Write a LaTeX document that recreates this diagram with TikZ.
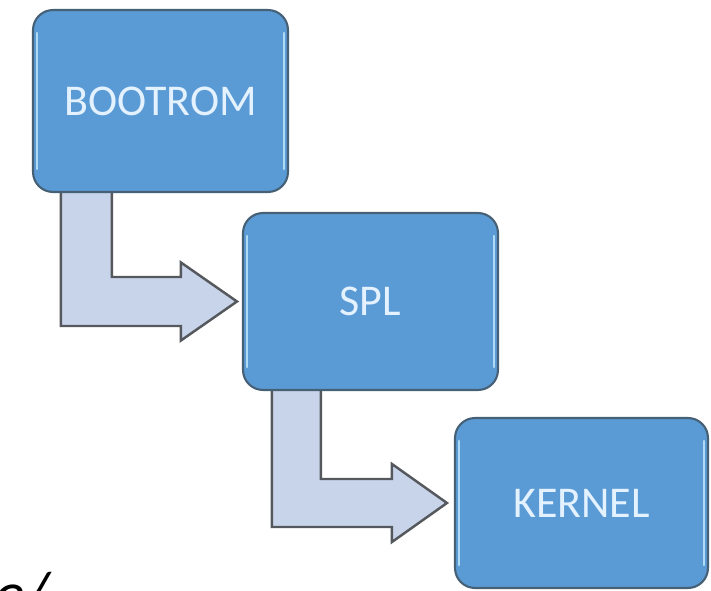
\documentclass[tikz,border=0pt]{standalone}
\usepackage{fontspec}
\setmainfont{Carlito}
\usepackage{xcolor}
\definecolor{bootblue}{RGB}{91,155,213}
\definecolor{bootedge}{RGB}{70,96,118}
\definecolor{bootglow}{RGB}{175,218,246}
\definecolor{boottext}{RGB}{228,242,255}
\definecolor{arrowfill}{RGB}{200,212,234}
\definecolor{arrowedge}{RGB}{85,88,92}
\usepackage{tikz}
\usetikzlibrary{calc, backgrounds}

\begin{document}
\begin{tikzpicture}[x=0.02cm, y=-0.02cm,
  stage/.style={draw=bootedge, fill=bootblue, line width=1.2pt, rounded corners=0.4cm,
                text=boottext, font=\fontsize{25}{30}\selectfont, inner sep=0pt},
  bentarrow/.style={draw=arrowedge, fill=arrowfill, line width=1.4pt, line join=miter},
  glow/.style={bootglow, line width=1.2pt, line cap=round}]

\useasboundingbox (0,0) rectangle (711,591);

% === Stage boxes ===
\node[stage, minimum width=5.1cm, minimum height=3.64cm] (boot) at (160.5,101) {BOOTROM};
\node[stage, minimum width=5.1cm, minimum height=3.54cm] (spl) at (370.5,301.5) {SPL};
\node[stage, minimum width=5.06cm, minimum height=3.4cm] (kern) at (581.5,503) {KERNEL};

% inner highlight on the sides
\foreach \b in {boot, spl, kern} {
  \draw[glow] ([shift={(5,24)}]\b.north west) -- ([shift={(5,-24)}]\b.south west);
  \draw[glow] ([shift={(-5,24)}]\b.north east) -- ([shift={(-5,-24)}]\b.south east);
}

% === Bent arrows (behind the boxes) ===
\begin{scope}[on background layer]
% BOOTROM -> SPL
\draw[bentarrow] ($(boot.south west)+(29,-4)$) coordinate (a1) -- ++(51,0)
     |- ($(spl.west)+(-61,-24.5)$) -- ++(0,-14.5) -- ($(spl.west)+(-5,0)$)
     -- ($(spl.west)+(-61,39)$) -- ++(0,-14.5) -| (a1) -- cycle;
% SPL -> KERNEL
\draw[bentarrow] ($(spl.south west)+(30,-4)$) coordinate (a2) -- ++(49,0)
     |- ($(kern.west)+(-62,-24)$) -- ++(0,-15) -- ($(kern.west)+(-7,0)$)
     -- ($(kern.west)+(-62,39)$) -- ++(0,-15) -| (a2) -- cycle;
\end{scope}

% cut-off text at the lower left
\node[font=\fontsize{36}{40}\selectfont\itshape, anchor=north west, inner sep=0pt] (frag) at (-6,572) {e/};

\end{tikzpicture}
\end{document}
